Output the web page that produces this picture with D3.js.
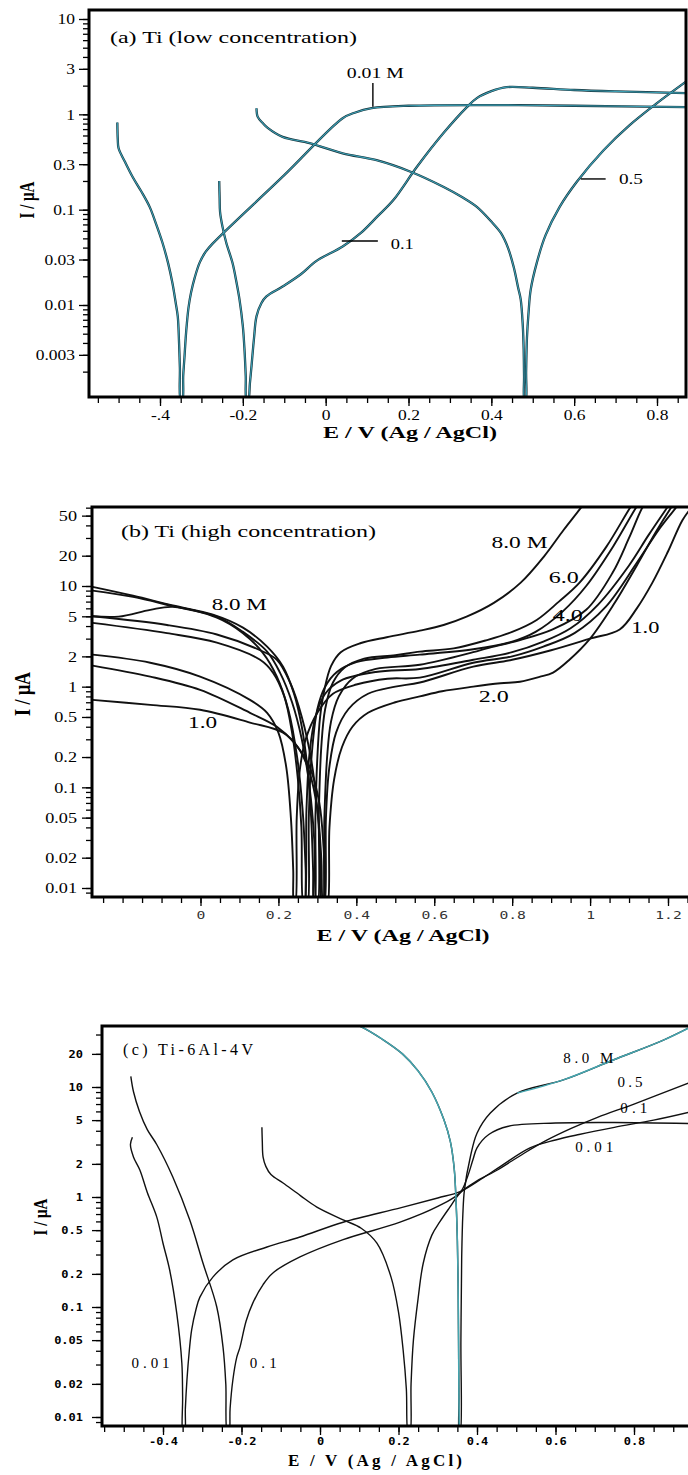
<!DOCTYPE html>
<html>
<head>
<meta charset="utf-8">
<script src="https://cdnjs.cloudflare.com/ajax/libs/d3/7.8.5/d3.min.js"></script>
<style>
  body { margin: 0; background: #fff; }
  svg { display: block; }
</style>
</head>
<body>
<svg id="chart" width="688" height="1475"></svg>
<script>
// ---- data: each curve is [E (V vs Ag/AgCl), I (uA)] ----

// (a) Ti, low concentration
const a001 = [[-0.503,0.82],[-0.502,0.55],[-0.5,0.44],[-0.485,0.32],[-0.466,0.22],[-0.445,0.155],[-0.425,0.107],
  [-0.41,0.072],[-0.394,0.045],[-0.38,0.027],[-0.37,0.017],[-0.362,0.0105],[-0.357,0.0075],[-0.354,0.004],
  [-0.352,0.0022],[-0.35,0.001],[-0.346,0.001],[-0.344,0.0018],[-0.341,0.0028],[-0.338,0.0045],[-0.335,0.0065],
  [-0.331,0.0095],[-0.325,0.0135],[-0.316,0.0195],[-0.304,0.028],[-0.29,0.036],[-0.273,0.044],[-0.1,0.23],
  [0.041,0.91],[0.07,1.04],[0.111,1.16],[0.2,1.23],[0.4,1.25],[0.6,1.23],[0.87,1.19]];
const a01 = [[-0.257,0.2],[-0.256,0.13],[-0.255,0.095],[-0.249,0.066],[-0.24,0.045],[-0.225,0.0277],[-0.215,0.017],
  [-0.208,0.0114],[-0.2,0.006],[-0.196,0.0034],[-0.193,0.0018],[-0.191,0.001],[-0.187,0.001],[-0.183,0.0015],
  [-0.179,0.0023],[-0.173,0.0045],[-0.167,0.0076],[-0.155,0.0105],[-0.143,0.0123],[-0.104,0.0156],[-0.06,0.021],
  [-0.022,0.029],[0.041,0.041],[0.085,0.057],[0.125,0.085],[0.164,0.127],[0.22,0.28],[0.285,0.64],[0.341,1.19],
  [0.365,1.48],[0.4,1.75],[0.437,1.93],[0.5,1.9],[0.6,1.8],[0.7,1.74],[0.87,1.67]];
const a05 = [[-0.167,1.16],[-0.164,0.94],[-0.152,0.81],[-0.14,0.72],[-0.104,0.58],[-0.039,0.5],[0.041,0.39],
  [0.123,0.33],[0.205,0.25],[0.285,0.173],[0.33,0.135],[0.365,0.107],[0.4,0.075],[0.423,0.057],[0.44,0.04],
  [0.454,0.025],[0.465,0.015],[0.471,0.0114],[0.476,0.006],[0.478,0.0035],[0.479,0.0018],[0.48,0.001],
  [0.483,0.001],[0.484,0.002],[0.486,0.0045],[0.49,0.0085],[0.495,0.0144],[0.51,0.028],[0.531,0.054],
  [0.565,0.107],[0.606,0.195],[0.671,0.42],[0.734,0.77],[0.8,1.31],[0.87,2.2]];

// (b) Ti, high concentration (top to bottom at the left edge)
const b1 = [[-0.277,9.8],[-0.173,8.0],[-0.071,6.4],[0.032,5.2],[0.109,3.86],[0.171,2.5],[0.212,1.58],[0.24,0.85],
  [0.26,0.4],[0.275,0.15],[0.284,0.05],[0.289,0.015],[0.291,0.007],[0.293,0.007],[0.295,0.05],[0.3,0.2],
  [0.307,0.5],[0.318,0.93],[0.335,1.6],[0.36,2.2],[0.41,2.7],[0.478,3.1],[0.563,3.6],[0.624,4.1],[0.683,4.96],
  [0.753,6.8],[0.822,10.8],[0.881,19.5],[0.932,36],[0.978,61],[1.0,80]];
const b2 = [[-0.277,9.0],[-0.173,7.8],[-0.071,6.3],[0.042,4.96],[0.109,3.5],[0.171,2.23],[0.204,1.38],[0.235,0.7],
  [0.26,0.3],[0.28,0.1],[0.292,0.03],[0.298,0.007],[0.301,0.007],[0.304,0.06],[0.31,0.25],[0.32,0.6],[0.34,1.1],
  [0.37,1.55],[0.42,1.9],[0.5,2.05],[0.563,2.23],[0.65,2.4],[0.735,2.9],[0.8,3.5],[0.863,4.6],[0.92,7.0],
  [0.973,10.8],[1.042,24.6],[1.104,61],[1.13,85]];
const b3 = [[-0.277,5.0],[-0.21,4.96],[-0.129,5.8],[-0.071,6.2],[0.042,4.85],[0.109,3.4],[0.16,2.17],[0.196,1.26],
  [0.225,0.6],[0.248,0.2],[0.262,0.06],[0.27,0.015],[0.272,0.007],[0.275,0.007],[0.278,0.05],[0.285,0.2],
  [0.3,0.6],[0.32,1.0],[0.35,1.4],[0.4,1.75],[0.48,1.95],[0.563,2.08],[0.7,2.35],[0.8,2.8],[0.86,3.5],
  [0.93,5.6],[0.99,10],[1.06,25],[1.119,61],[1.14,80]];
const b4 = [[-0.277,5.0],[-0.086,4.1],[0.042,3.3],[0.153,2.3],[0.196,1.85],[0.23,1.1],[0.26,0.5],[0.285,0.18],
  [0.3,0.06],[0.308,0.02],[0.311,0.007],[0.314,0.007],[0.318,0.05],[0.325,0.2],[0.335,0.45],[0.355,0.8],
  [0.39,1.2],[0.45,1.5],[0.563,1.65],[0.7,2.2],[0.735,2.4],[0.82,2.9],[0.904,3.7],[0.99,5.8],[1.058,13.6],
  [1.1,30],[1.135,61],[1.16,85]];
const b5 = [[-0.277,4.3],[-0.086,3.4],[0.042,2.74],[0.153,1.85],[0.186,1.38],[0.215,0.8],[0.235,0.35],[0.25,0.12],
  [0.259,0.04],[0.264,0.007],[0.267,0.007],[0.272,0.06],[0.28,0.22],[0.295,0.5],[0.32,0.85],[0.36,1.15],
  [0.45,1.4],[0.563,1.5],[0.7,1.85],[0.8,2.2],[0.88,2.8],[0.95,3.8],[1.02,6.5],[1.1,16],[1.15,32],[1.199,61],
  [1.22,80]];
const b6 = [[-0.277,2.08],[-0.129,1.73],[-0.001,1.26],[0.127,0.74],[0.171,0.55],[0.2,0.35],[0.22,0.16],[0.232,0.05],
  [0.238,0.015],[0.24,0.007],[0.243,0.007],[0.247,0.05],[0.255,0.15],[0.27,0.3],[0.3,0.55],[0.34,0.85],[0.4,1.05],
  [0.48,1.2],[0.563,1.23],[0.7,1.73],[0.8,2.0],[0.88,2.5],[0.96,3.4],[1.04,6.2],[1.12,17],[1.18,38],[1.222,61],
  [1.24,75]];
const b7 = [[-0.277,1.62],[-0.129,1.26],[-0.001,0.93],[0.127,0.55],[0.196,0.4],[0.24,0.28],[0.28,0.16],[0.305,0.07],
  [0.316,0.025],[0.322,0.007],[0.326,0.007],[0.331,0.04],[0.343,0.12],[0.363,0.25],[0.39,0.4],[0.43,0.55],
  [0.5,0.7],[0.563,0.8],[0.62,0.9],[0.7,1.0],[0.77,1.08],[0.82,1.12],[0.87,1.25],[0.905,1.38],[0.947,1.85],
  [1.0,3.0],[1.06,6.5],[1.12,16],[1.17,35],[1.209,61],[1.23,80]];
const b8 = [[-0.277,0.74],[-0.129,0.66],[-0.001,0.59],[0.127,0.44],[0.212,0.35],[0.25,0.25],[0.28,0.14],[0.3,0.06],
  [0.31,0.02],[0.315,0.007],[0.318,0.007],[0.322,0.05],[0.33,0.15],[0.348,0.35],[0.38,0.6],[0.43,0.85],
  [0.5,1.0],[0.563,1.1],[0.7,1.58],[0.8,1.85],[0.9,2.3],[1.0,3.0],[1.076,3.7],[1.12,6.0],[1.16,10.8],[1.2,22],
  [1.237,45],[1.26,60]];

// (c) Ti-6Al-4V
const c001 = [[-0.478,3.5],[-0.483,3.0],[-0.475,2.3],[-0.459,1.76],[-0.44,1.1],[-0.416,0.66],[-0.4,0.38],
  [-0.383,0.217],[-0.365,0.088],[-0.352,0.031],[-0.35,0.0152],[-0.349,0.007],[-0.345,0.007],[-0.343,0.012],
  [-0.339,0.0217],[-0.333,0.04],[-0.327,0.062],[-0.316,0.095],[-0.306,0.123],[-0.273,0.187],[-0.222,0.268],
  [-0.135,0.351],[-0.051,0.433],[0.059,0.59],[0.207,0.8],[0.3,0.98],[0.357,1.12],[0.41,1.45],[0.46,1.9],
  [0.535,2.8],[0.6,3.3],[0.66,3.7],[0.75,4.3],[0.85,5.0],[0.94,5.9]];
const c01 = [[-0.482,12.5],[-0.475,9.0],[-0.46,6.0],[-0.44,4.1],[-0.416,3.0],[-0.375,1.52],[-0.332,0.62],
  [-0.298,0.25],[-0.263,0.1],[-0.247,0.043],[-0.24,0.02],[-0.236,0.007],[-0.232,0.007],[-0.229,0.012],
  [-0.222,0.0217],[-0.212,0.035],[-0.204,0.043],[-0.188,0.075],[-0.171,0.109],[-0.145,0.16],[-0.12,0.204],
  [-0.051,0.285],[0.059,0.41],[0.204,0.59],[0.3,0.82],[0.357,1.1],[0.375,1.5],[0.39,2.2],[0.4,2.8],[0.43,3.7],
  [0.48,4.4],[0.6,4.7],[0.75,4.75],[0.94,4.65]];
const c05 = [[-0.148,4.3],[-0.147,3.2],[-0.145,2.3],[-0.138,1.9],[-0.125,1.6],[-0.094,1.34],[-0.05,1.03],
  [-0.008,0.81],[0.059,0.62],[0.105,0.52],[0.145,0.38],[0.181,0.187],[0.2,0.09],[0.212,0.04],[0.22,0.018],
  [0.225,0.007],[0.229,0.007],[0.232,0.02],[0.238,0.05],[0.25,0.12],[0.263,0.25],[0.285,0.45],[0.306,0.6],
  [0.33,0.8],[0.357,1.09],[0.4,1.4],[0.452,1.76],[0.52,2.5],[0.579,3.3],[0.64,4.2],[0.707,5.3],[0.8,7.0],
  [0.94,10.9]];
const c80 = [[0.02,45],[0.1,36],[0.16,27],[0.21,20],[0.25,14],[0.285,9],[0.316,5.0],[0.332,3.2],
  [0.342,1.8],[0.347,0.85],[0.35,0.4],[0.352,0.15],[0.353,0.05],[0.354,0.015],[0.355,0.007],[0.357,0.007],
  [0.359,0.05],[0.361,0.285],[0.364,0.7],[0.368,1.16],[0.383,2.31],[0.4,3.8],[0.434,5.8],[0.502,8.8],
  [0.62,11.6],[0.747,17.6],[0.875,26.7],[0.95,36]];

// ---- ticks ----
const aXTicks = [-0.4, -0.2, 0, 0.2, 0.4, 0.6, 0.8];
const aXLabels = ["-.4", "-0.2", "0", "0.2", "0.4", "0.6", "0.8"];
const aYTicks = [0.003, 0.01, 0.03, 0.1, 0.3, 1, 3, 10];
const aYLabels = ["0.003", "0.01", "0.03", "0.1", "0.3", "1", "3", "10"];
const bXTicks = [0, 0.2, 0.4, 0.6, 0.8, 1, 1.2];
const bXLabels = ["0", "0.2", "0.4", "0.6", "0.8", "1", "1.2"];
const bYTicks = [0.01, 0.02, 0.05, 0.1, 0.2, 0.5, 1, 2, 5, 10, 20, 50];
const bYLabels = ["0.01", "0.02", "0.05", "0.1", "0.2", "0.5", "1", "2", "5", "10", "20", "50"];
const cXTicks = [-0.4, -0.2, 0, 0.2, 0.4, 0.6, 0.8];
const cXLabels = ["-0.4", "-0.2", "0", "0.2", "0.4", "0.6", "0.8"];
const cYTicks = [0.01, 0.02, 0.05, 0.1, 0.2, 0.5, 1, 2, 5, 10, 20];
const cYLabels = ["0.01", "0.02", "0.05", "0.1", "0.2", "0.5", "1", "2", "5", "10", "20"];

const SERIF = "'Liberation Serif', 'Times New Roman', serif";
const MONO = "'DejaVu Sans Mono', monospace";
const TEAL = "#3c9fb4";

const svg = d3.select("#chart");
const defs = svg.append("defs");

function addText(g, str, x, y, o) {
  const t = g.append("text")
    .attr("x", x).attr("y", y)
    .attr("font-family", o.font || SERIF)
    .attr("font-size", o.size)
    .attr("fill", "#000")
    .text(str);
  if (o.bold) t.attr("font-weight", "bold");
  if (o.anchor) t.attr("text-anchor", o.anchor);
  if (o.len) t.attr("textLength", o.len).attr("lengthAdjust", o.adjust || "spacingAndGlyphs");
  return t;
}

function drawPanel(p) {
  const f = p.frame;
  const g = svg.append("g");

  // scales anchored on two tick positions, then stretched to the frame
  const x = d3.scaleLinear().domain(p.xRef).range(p.xPix);
  x.domain([x.invert(f.l), x.invert(f.r)]).range([f.l, f.r]);
  const y = d3.scaleLog().domain(p.yRef).range(p.yPix);
  y.domain([y.invert(f.b), y.invert(f.t)]).range([f.b, f.t]);

  defs.append("clipPath").attr("id", p.id)
    .append("rect").attr("x", f.l).attr("y", f.t).attr("width", f.r - f.l).attr("height", f.b - f.t);

  // x axis: minor every 0.05 V, then labelled majors
  const d0 = x.domain();
  const minorX = d3.range(Math.ceil(d0[0] / 0.05 - 1e-6), Math.floor(d0[1] / 0.05 + 1e-6) + 1)
    .map(k => +(k * 0.05).toFixed(2));
  const gx1 = g.append("g").attr("transform", `translate(0,${f.b})`)
    .call(d3.axisBottom(x).tickValues(minorX).tickSize(6).tickFormat(""));
  const gx2 = g.append("g").attr("transform", `translate(0,${f.b})`)
    .call(d3.axisBottom(x).tickValues(p.xTicks).tickSize(9).tickFormat((d, i) => p.xLabels[i]));
  gx2.selectAll("text")
    .attr("font-family", p.xFont.font).attr("font-size", p.xFont.size)
    .attr("font-weight", p.xFont.bold ? "bold" : null)
    .attr("fill", p.xFont.fill || "#000")
    .attr("y", p.xFont.dy).attr("dy", "0.35em")
    .attr("transform", `scale(${p.xFont.sx},1)`);

  // y axis: log minor ticks, labelled majors
  const minorY = y.ticks();
  const gy1 = g.append("g").attr("transform", `translate(${f.l},0)`)
    .call(d3.axisLeft(y).tickValues(minorY).tickSize(6).tickFormat(""));
  const gy2 = g.append("g").attr("transform", `translate(${f.l},0)`)
    .call(d3.axisLeft(y).tickValues(p.yTicks).tickSize(10).tickFormat((d, i) => p.yLabels[i]));
  gy2.selectAll("text")
    .attr("font-family", p.yFont.font).attr("font-size", p.yFont.size)
    .attr("font-weight", p.yFont.bold ? "bold" : null)
    .attr("x", -p.yFont.dx / p.yFont.sx).attr("dy", "0.35em")
    .attr("transform", `scale(${p.yFont.sx},1)`);

  [gx1, gx2, gy1, gy2].forEach(a => {
    a.select(".domain").remove();
    a.selectAll("line").attr("stroke", "#000").attr("stroke-width", 1.3);
  });

  // curves
  const line = d3.line()
    .x(d => x(d[0]))
    .y(d => y(d[1]))
    .curve(d3.curveCatmullRom.alpha(0.5));
  const plot = g.append("g").attr("clip-path", `url(#${p.id})`);
  p.curves.forEach(c => {
    plot.append("path")
      .datum(c.data)
      .attr("fill", "none")
      .attr("stroke", c.color)
      .attr("stroke-width", c.width)
      .attr("stroke-linejoin", "round")
      .attr("d", line);
  });

  // leader lines and curve labels (data coordinates)
  (p.leaders || []).forEach(l => {
    g.append("line")
      .attr("x1", x(l[0][0])).attr("y1", y(l[0][1]))
      .attr("x2", x(l[1][0])).attr("y2", y(l[1][1]))
      .attr("stroke", "#000").attr("stroke-width", 1.4);
  });
  p.labels.forEach(l => {
    addText(g, l.text, x(l.E), y(l.I), { size: p.labelSize, len: l.len, adjust: p.labelAdjust });
  });

  // frame
  g.append("rect")
    .attr("x", f.l).attr("y", f.t).attr("width", f.r - f.l).attr("height", f.b - f.t)
    .attr("fill", "none").attr("stroke", "#000").attr("stroke-width", 3);

  // titles
  addText(g, p.title.text, p.title.x, p.title.y,
    { size: p.title.size, len: p.title.len, adjust: p.title.adjust });
  addText(g, "E / V (Ag / AgCl)", p.xTitle.x, p.xTitle.y,
    { size: p.xTitle.size, bold: true, anchor: "middle", len: p.xTitle.len, adjust: p.xTitle.adjust });
  g.append("text")
    .attr("transform", `translate(${p.yTitle.x},${p.yTitle.y}) scale(${p.yTitle.sx},1) rotate(-90)`)
    .attr("text-anchor", "middle").attr("dy", "0.35em")
    .attr("font-family", SERIF).attr("font-size", p.yTitle.size).attr("font-weight", "bold")
    .text("I / \u03bcA");
}

// (a)
const aCurves = [a001, a01, a05];
drawPanel({
  id: "clipA",
  frame: { l: 89, t: 10, r: 686, b: 397 },
  xRef: [-0.4, 0.8], xPix: [160, 657],
  yRef: [0.01, 10], yPix: [305, 19],
  xTicks: aXTicks, xLabels: aXLabels, yTicks: aYTicks, yLabels: aYLabels,
  xFont: { font: SERIF, size: 14, sx: 1.25, dy: 18 },
  yFont: { font: SERIF, size: 14, sx: 1.25, dx: 14 },
  curves: aCurves.map(d => ({ data: d, color: "#16343c", width: 2.3 }))
    .concat(aCurves.map(d => ({ data: d, color: TEAL, width: 1.1 }))),
  leaders: [[[0.114, 2.13], [0.114, 1.2]], [[0.039, 0.047], [0.126, 0.047]], [[0.616, 0.21], [0.676, 0.21]]],
  labelSize: 15,
  labels: [
    { text: "0.01 M", E: 0.051, I: 2.4, len: 57 },
    { text: "0.1", E: 0.157, I: 0.039, len: 23 },
    { text: "0.5", E: 0.708, I: 0.187, len: 24 }
  ],
  title: { text: "(a) Ti (low concentration)", x: 110, y: 43, size: 17, len: 247 },
  xTitle: { x: 410, y: 438, size: 16, len: 174 },
  yTitle: { x: 26, y: 200, size: 15, sx: 1.45 }
});

// (b)
drawPanel({
  id: "clipB",
  frame: { l: 92, t: 507, r: 690, b: 897 },
  xRef: [0, 1.2], xPix: [200.5, 668],
  yRef: [0.01, 10], yPix: [888, 586],
  xTicks: bXTicks, xLabels: bXLabels, yTicks: bYTicks, yLabels: bYLabels,
  xFont: { font: MONO, size: 10.5, sx: 1.4, dy: 18, fill: "#333" },
  yFont: { font: SERIF, size: 14, sx: 1.3, dx: 15 },
  curves: [b1, b2, b3, b4, b5, b6, b7, b8].map(d => ({ data: d, color: "#111", width: 1.9 })),
  labelSize: 16,
  labels: [
    { text: "8.0 M", E: 0.029, I: 5.8, len: 55 },
    { text: "1.0", E: -0.032, I: 0.39, len: 29 },
    { text: "8.0 M", E: 0.747, I: 24.1, len: 56 },
    { text: "6.0", E: 0.894, I: 10.8, len: 30 },
    { text: "4.0", E: 0.904, I: 4.53, len: 30 },
    { text: "1.0", E: 1.106, I: 3.44, len: 28 },
    { text: "2.0", E: 0.714, I: 0.71, len: 30 }
  ],
  title: { text: "(b) Ti (high concentration)", x: 121, y: 537, size: 17, len: 255 },
  xTitle: { x: 403, y: 941, size: 16, len: 173 },
  yTitle: { x: 22, y: 694, size: 18, sx: 1.25 }
});

// (c)
drawPanel({
  id: "clipC",
  frame: { l: 102, t: 1026, r: 690, b: 1426 },
  xRef: [-0.4, 0.8], xPix: [163, 634],
  yRef: [0.01, 10], yPix: [1417, 1087],
  xTicks: cXTicks, xLabels: cXLabels, yTicks: cYTicks, yLabels: cYLabels,
  xFont: { font: MONO, size: 10, sx: 1.2, dy: 16, bold: true },
  yFont: { font: MONO, size: 10, sx: 1.2, dx: 19, bold: true },
  curves: [
    { data: c001, color: "#111", width: 1.4 },
    { data: c01, color: "#111", width: 1.4 },
    { data: c05, color: "#111", width: 1.4 },
    { data: c80, color: "#111", width: 1.4 },
    { data: c80.filter(d => d[0] <= 0.355), color: "#45a6b0", width: 1.5 },
    { data: c80.filter(d => d[0] >= 0.5), color: "#45a6b0", width: 1.5 }
  ],
  labelSize: 15, labelAdjust: "spacing",
  labels: [
    { text: "8.0 M", E: 0.62, I: 16.5, len: 50 },
    { text: "0.5", E: 0.758, I: 10, len: 25 },
    { text: "0.1", E: 0.765, I: 5.8, len: 27 },
    { text: "0.01", E: 0.65, I: 2.57, len: 38 },
    { text: "0.01", E: -0.48, I: 0.0279, len: 38 },
    { text: "0.1", E: -0.179, I: 0.0279, len: 27 }
  ],
  title: { text: "(c) Ti-6Al-4V", x: 123, y: 1055, size: 16, len: 130, adjust: "spacing" },
  xTitle: { x: 375, y: 1466, size: 17, len: 174, adjust: "spacing" },
  yTitle: { x: 41, y: 1217, size: 15, sx: 1.2 }
});
</script>
</body>
</html>
